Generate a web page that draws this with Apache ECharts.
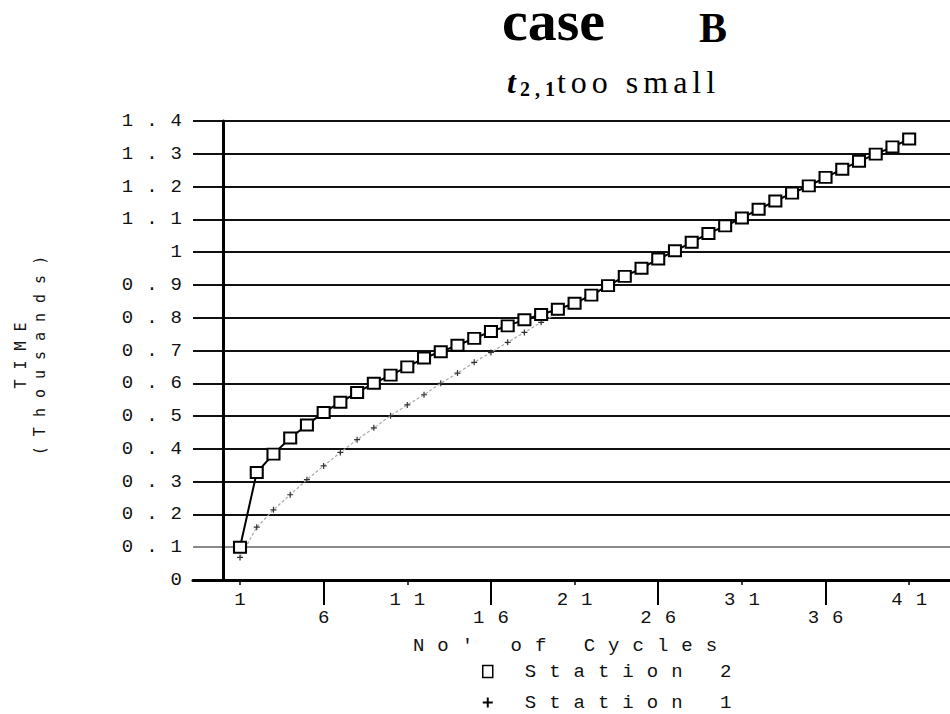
<!DOCTYPE html>
<html>
<head>
<meta charset="utf-8">
<title>case B</title>
<script src="https://cdn.jsdelivr.net/npm/echarts@6/dist/echarts.min.js"></script>
<style>
    html, body { margin: 0; padding: 0; background: #fff; }
    #chartContainer { width: 950px; height: 714px; }
    /* the old plot uses a very widely spaced typewriter face */
    #chartContainer text[style*="Liberation Mono"], #chartContainer text[font-family*="Liberation Mono"] { letter-spacing: 13px; }
    #chartContainer text[style*="DejaVu Sans Mono"], #chartContainer text[font-family*="DejaVu Sans Mono"] { letter-spacing: 10px; }
    #chartContainer text[style*="Times New Roman"], #chartContainer text[font-family*="Times New Roman"] { letter-spacing: 5px; }
</style>
</head>
<body>
<div id="chartContainer"></div>
<script>
'use strict';
// cycle number on x, time (thousands) on y
let cycles = [1, 2, 3, 4, 5, 6, 7, 8, 9, 10, 11, 12, 13, 14, 15, 16, 17, 18, 19, 20,
    21, 22, 23, 24, 25, 26, 27, 28, 29, 30, 31, 32, 33, 34, 35, 36, 37, 38, 39, 40, 41];
let station2 = [0.100, 0.328, 0.384, 0.433, 0.473, 0.511, 0.542, 0.572, 0.600, 0.625,
    0.650, 0.677, 0.696, 0.716, 0.737, 0.758, 0.775, 0.794, 0.810, 0.826,
    0.844, 0.869, 0.898, 0.926, 0.951, 0.979, 1.004, 1.030, 1.057, 1.080,
    1.104, 1.131, 1.156, 1.180, 1.202, 1.228, 1.253, 1.277, 1.299, 1.321, 1.345];
let station1 = [0.069, 0.161, 0.214, 0.260, 0.306, 0.348, 0.389, 0.428, 0.464, 0.501,
    0.534, 0.565, 0.600, 0.631, 0.664, 0.694, 0.725, 0.755, 0.786, 0.814,
    0.840, 0.866, 0.896, 0.924, 0.949, 0.977, 1.002, 1.028, 1.055, 1.078,
    1.102, 1.129, 1.154, 1.178, 1.200, 1.226, 1.251, 1.275, 1.297, 1.319, 1.343];
let xTicksUpper = [1, 11, 21, 31, 41];
let xTicksLower = [6, 16, 26, 36];
let yTickLabels = ['0', '0.1', '0.2', '0.3', '0.4', '0.5', '0.6', '0.7',
    '0.8', '0.9', '1', '1.1', '1.2', '1.3', '1.4'];

let initChart = (function() {
    let chartContainer = document.getElementById('chartContainer');
    let demoChart = echarts.init(chartContainer, null, { renderer: 'svg' });

    let mono = 'Liberation Mono';
    let serif = "'Times New Roman', 'Liberation Serif', serif";
    let plusPath = 'path://M4,0h2v4h4v2h-4v4h-2v-4h-4v-2h4z';
    let toPairs = function(ys) {
        return cycles.map(function(c, i) { return [c, ys[i]]; });
    };
    // every grid line black except the faint one at 0.1
    let gridColors = yTickLabels.map(function(t, i) { return i === 1 ? '#8a8a8a' : '#111'; });

    let option = {
        backgroundColor: '#fff',
        animation: false,
        title: [{
            text: '{c|case}{b|B}',
            left: 497,
            top: 3,
            textStyle: {
                rich: {
                    c: { fontFamily: 'Liberation Serif', fontWeight: 'bold', fontSize: 58, lineHeight: 25, color: '#000' },
                    b: { fontFamily: 'Liberation Serif', fontWeight: 'bold', fontSize: 42, lineHeight: 10,
                        color: '#000', padding: [15, 0, 0, 94] }
                }
            }
        }, {
            text: '{t|t}{s|2,1}{n|too small}',
            left: 502,
            top: 60,
            textStyle: {
                rich: {
                    t: { fontFamily: serif, fontStyle: 'italic', fontWeight: 'bold',
                        fontSize: 32, lineHeight: 34, color: '#000' },
                    s: { fontFamily: serif, fontWeight: 'bold', fontSize: 20, lineHeight: 20,
                        verticalAlign: 'bottom', color: '#000', padding: [0, 0, 0, 4] },
                    n: { fontFamily: serif, fontWeight: 'normal', fontSize: 32, lineHeight: 34,
                        color: '#000', padding: [0, 0, 0, 12] }
                }
            }
        }],
        legend: {
            orient: 'vertical',
            left: 482,
            top: 662,
            padding: 0,
            itemWidth: 10,
            itemHeight: 12,
            itemGap: 12,
            textStyle: { fontFamily: mono, fontSize: 19, color: '#111', padding: [0, 0, 0, 27] },
            data: [{
                name: 'Station 2',
                icon: 'rect',
                itemStyle: { color: '#fff', borderColor: '#000', borderWidth: 1.5 }
            }, {
                name: 'Station 1',
                icon: plusPath,
                itemStyle: { color: '#000', borderWidth: 0 }
            }]
        },
        grid: {
            left: 193,
            right: 0,
            top: 121,
            bottom: 134,
            outerBoundsMode: 'none'
        },
        xAxis: [{
            type: 'value',
            min: -1.81,
            max: 43.44,
            name: "No' of Cycles",
            nameLocation: 'middle',
            nameGap: 56,
            nameTextStyle: { fontFamily: mono, fontSize: 19, color: '#111' },
            axisLine: { show: true, onZero: false, lineStyle: { color: '#000', width: 3 } },
            axisTick: { show: true, customValues: xTicksUpper, length: 5, lineStyle: { color: '#000', width: 1.5 } },
            axisLabel: { customValues: xTicksUpper, margin: 10, padding: [0, 0, 0, 13],
                fontFamily: mono, fontSize: 19, color: '#111' },
            splitLine: { show: false }
        }, {
            type: 'value',
            position: 'bottom',
            min: -1.81,
            max: 43.44,
            axisLine: { show: false },
            axisTick: { show: true, customValues: xTicksLower, length: 25, lineStyle: { color: '#000', width: 2 } },
            axisLabel: { customValues: xTicksLower, margin: 28, padding: [0, 0, 0, 13],
                fontFamily: mono, fontSize: 19, color: '#111' },
            splitLine: { show: false }
        }],
        yAxis: {
            type: 'value',
            min: 0,
            max: 1.4,
            interval: 0.1,
            name: 'TIME\n(Thousands)',
            nameLocation: 'middle',
            nameGap: 144,
            nameTextStyle: { fontFamily: 'DejaVu Sans Mono', fontSize: 15, lineHeight: 19, color: '#111' },
            axisLine: { show: true, lineStyle: { color: '#000', width: 3 } },
            axisTick: { show: false },
            axisLabel: {
                margin: -2,
                fontFamily: mono,
                fontSize: 19,
                color: '#111',
                formatter: function(v) { return yTickLabels[Math.round(v * 10)]; }
            },
            splitLine: { show: true, lineStyle: { color: gridColors, width: 2 } }
        },
        series: [{
            name: 'Station 1',
            type: 'line',
            data: toPairs(station1),
            symbol: plusPath,
            symbolSize: 6,
            itemStyle: { color: '#333' },
            lineStyle: { color: '#a8a8a8', width: 1.2, type: [3, 2] },
            z: 2
        }, {
            name: 'Station 2',
            type: 'line',
            data: toPairs(station2),
            symbol: 'rect',
            symbolSize: [12, 11],
            itemStyle: { color: '#fff', borderColor: '#000', borderWidth: 2 },
            lineStyle: { color: '#000', width: 2 },
            z: 3
        }]
    };

    demoChart.setOption(option);
})();
</script>
</body>
</html>
